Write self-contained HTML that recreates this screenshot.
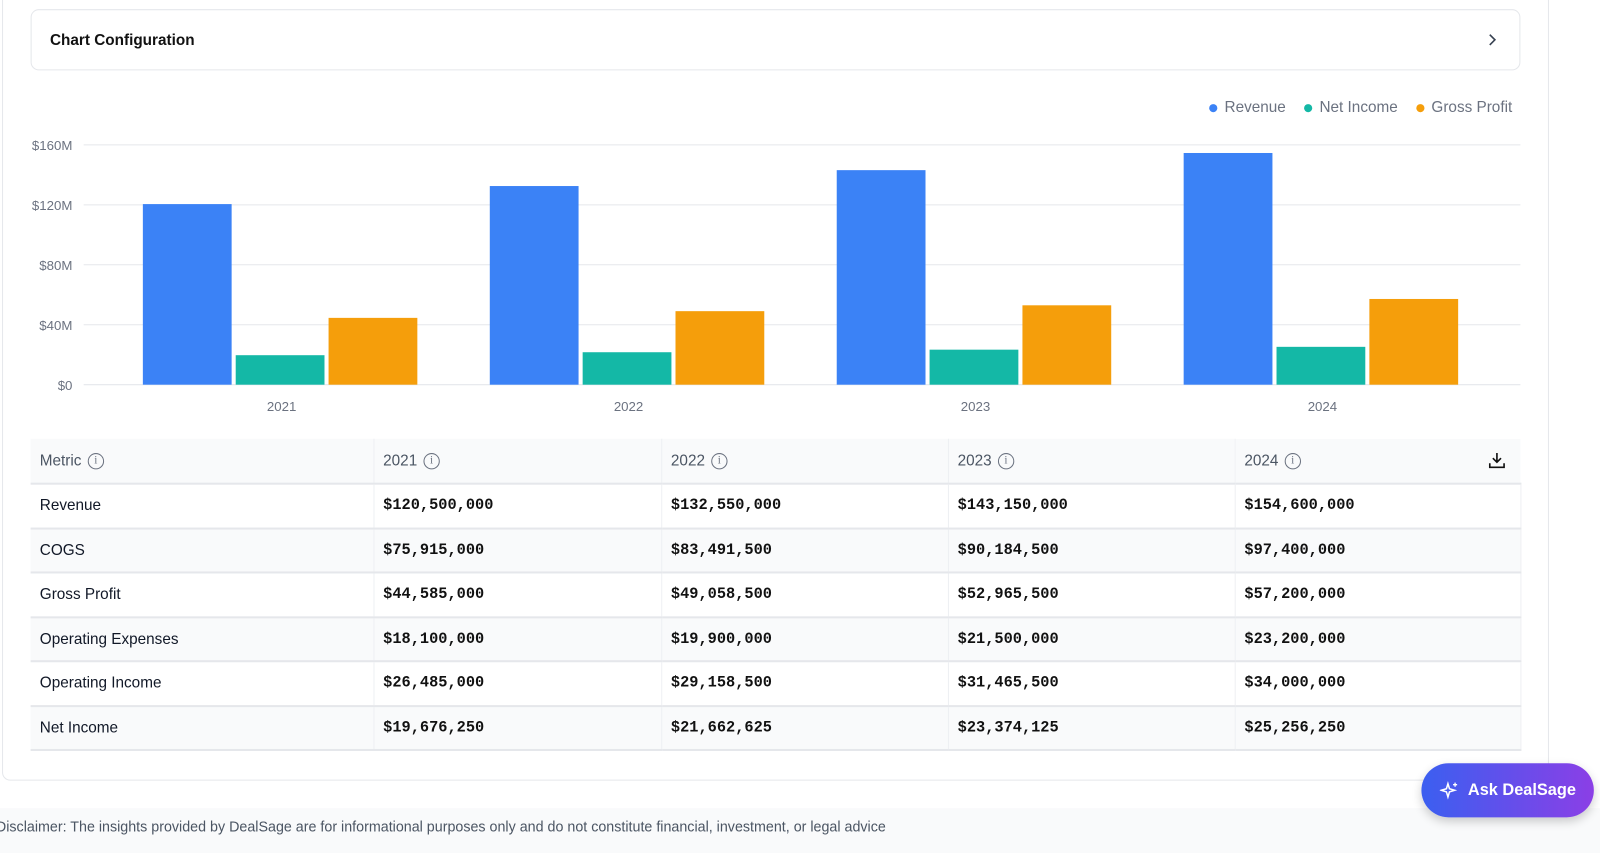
<!DOCTYPE html>
<html><head><meta charset="utf-8"><style>
*{box-sizing:border-box;margin:0;padding:0}
body{width:1600px;height:836px;background:#fff;font-family:"Liberation Sans",sans-serif;overflow:hidden;color:#111827}
#wrap{position:absolute;left:0;top:0;width:1568px;height:820px;transform:scale(1.0204);transform-origin:0 0}
.card{position:absolute;left:2px;top:-10px;width:1516px;height:775px;border:1px solid #e5e7eb;border-radius:8px;background:#fff}
.cfg{position:absolute;left:30px;top:9px;width:1460px;height:60px;border:1px solid #e5e7eb;border-radius:8px;background:#fff}
.cfg span{position:absolute;left:18px;top:21px;font-size:15px;font-weight:bold;color:#111}
.legend{position:absolute;top:97px;font-size:15px;color:#6b7280;display:flex;gap:18px;right:86px}
.legend div{display:flex;align-items:center;gap:7px}
.dot{width:8px;height:8px;border-radius:50%}
table{position:absolute;left:30px;top:430px;width:1460px;border-collapse:collapse;font-size:15px;table-layout:fixed}
td,th{height:43.5px;padding:0 9px;text-align:left;vertical-align:middle;border-bottom:2px solid #e5e7eb;border-right:1px solid #eef0f3}
th{font-weight:normal;color:#4b5563;background:#f9fafb;height:44px}
tr.alt td{background:#f9fafb}
td.v{font-family:"Liberation Mono",monospace;font-size:15px;font-weight:bold;color:#111}
.info{display:inline-block;width:16px;height:16px;border:1.5px solid #6b7280;border-radius:50%;font-size:11px;text-align:center;line-height:13px;vertical-align:middle;margin-left:6px;color:#6b7280;font-family:"Liberation Serif",serif}
.footer{position:absolute;left:0;top:792px;width:1600px;height:44px;background:#f9fafb}
.footer span{position:absolute;left:-4px;top:10px;font-size:14px;color:#4b5563}
.ask{position:absolute;left:1393px;top:748px;width:169px;height:53px;border-radius:27px;background:linear-gradient(90deg,#3b5ff0,#8b3fe6);color:#fff;font-weight:bold;font-size:16px;display:flex;align-items:center;justify-content:center;gap:8px;box-shadow:0 4px 10px rgba(0,0,0,.2)}
</style></head><body>
<div id="wrap">
<div class="card"></div>
<div class="cfg"><span>Chart Configuration</span>
<svg style="position:absolute;right:22px;top:22px" width="10" height="14" viewBox="0 0 10 14"><path d="M3 2l5 5-5 5" fill="none" stroke="#374151" stroke-width="1.6"/></svg></div>
<div class="legend">
<div><span class="dot" style="background:#3b82f6"></span>Revenue</div>
<div><span class="dot" style="background:#14b8a6"></span>Net Income</div>
<div><span class="dot" style="background:#f59e0b"></span>Gross Profit</div>
</div>
<svg id="chart" style="position:absolute;left:0;top:120px" width="1568" height="300"></svg>
<table>
<colgroup><col style="width:336px"><col style="width:282px"><col style="width:281px"><col style="width:281px"><col style="width:280px"></colgroup>
<tr><th>Metric<span class="info">i</span></th><th>2021<span class="info">i</span></th><th>2022<span class="info">i</span></th><th>2023<span class="info">i</span></th><th style="border-right:none;position:relative">2024<span class="info">i</span>
<svg style="position:absolute;right:14px;top:12px" width="18" height="18" viewBox="0 0 18 18"><path d="M9 2v9M5 7l4 4 4-4M2 12v4h14v-4" fill="none" stroke="#111" stroke-width="1.6"/></svg></th></tr>
<tr><td>Revenue</td><td class="v">$120,500,000</td><td class="v">$132,550,000</td><td class="v">$143,150,000</td><td class="v">$154,600,000</td></tr>
<tr class="alt"><td>COGS</td><td class="v">$75,915,000</td><td class="v">$83,491,500</td><td class="v">$90,184,500</td><td class="v">$97,400,000</td></tr>
<tr><td>Gross Profit</td><td class="v">$44,585,000</td><td class="v">$49,058,500</td><td class="v">$52,965,500</td><td class="v">$57,200,000</td></tr>
<tr class="alt"><td>Operating Expenses</td><td class="v">$18,100,000</td><td class="v">$19,900,000</td><td class="v">$21,500,000</td><td class="v">$23,200,000</td></tr>
<tr><td>Operating Income</td><td class="v">$26,485,000</td><td class="v">$29,158,500</td><td class="v">$31,465,500</td><td class="v">$34,000,000</td></tr>
<tr class="alt"><td>Net Income</td><td class="v">$19,676,250</td><td class="v">$21,662,625</td><td class="v">$23,374,125</td><td class="v">$25,256,250</td></tr>
</table>
<div class="footer"><span>Disclaimer: The insights provided by DealSage are for informational purposes only and do not constitute financial, investment, or legal advice</span></div>
<div class="ask"><svg width="20" height="20" viewBox="0 0 20 20"><path d="M8 3l1.5 5 5 1.5-5 1.5L8 16l-1.5-5-5-1.5 5-1.5z" fill="none" stroke="#fff" stroke-width="1.5"/><path d="M15 2v4M13 4h4" stroke="#fff" stroke-width="1.3"/></svg>Ask DealSage</div>
</div>
<script>
const years=["2021","2022","2023","2024"];
const revenue=[120.5,132.55,143.15,154.6];
const netIncome=[19.68,21.66,23.37,25.26];
const grossProfit=[44.59,49.06,52.97,57.2];
const ticks=[0,40,80,120,160];
const tickLabels=["$0","$40M","$80M","$120M","$160M"];
const svg=document.getElementById('chart');
const NS='http://www.w3.org/2000/svg';
const x0=106,x1=1466,yBase=257,yTop=22,maxV=160;
const y=v=>yBase-(v/maxV)*(yBase-yTop);
const band=(x1-x0)/years.length;
const cx=i=>x0+band*(i+0.5);
function mk(t,a){const e=document.createElementNS(NS,t);for(const k in a)e.setAttribute(k,a[k]);svg.appendChild(e);return e;}
ticks.forEach((t,i)=>{
 const l=mk('line',{x1:82,x2:1490,y1:y(t),y2:y(t),stroke:'#e5e7eb','stroke-width':1});
 
 
 const tx=mk('text',{x:71,y:y(t)+5,'text-anchor':'end','font-size':13,fill:'#6b7280','font-family':'Liberation Sans'});
 tx.textContent=tickLabels[i];
 
 
});
const series=[[revenue,'#3b82f6','revenue'],[netIncome,'#14b8a6','net-income'],[grossProfit,'#f59e0b','gross-profit']];
const bw=87,step=91;
years.forEach((yr,i)=>{
 series.forEach((s,j)=>{
  const bx=cx(i)-136+j*step;
  const r=mk('rect',{x:bx,y:y(s[0][i]),width:bw,height:yBase-y(s[0][i]),fill:s[1]});
  
  
 });
 const t=mk('text',{x:cx(i),y:yBase+26,'text-anchor':'middle','font-size':13,fill:'#6b7280','font-family':'Liberation Sans'});
 t.textContent=yr;
 
 
});
</script>
</body></html>
